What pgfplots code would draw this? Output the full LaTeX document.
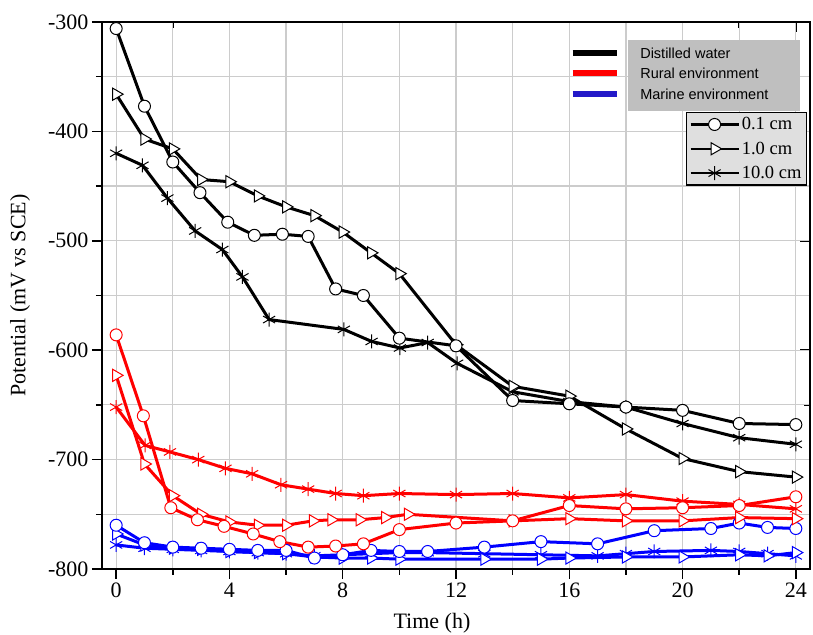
\documentclass[border=0pt]{standalone}
\usepackage{fontspec}
\setmainfont{Liberation Serif}
\newfontfamily\arialfont{Liberation Sans}
\usepackage{pgfplots}
\pgfplotsset{compat=1.18}
\definecolor{legblue}{RGB}{35,25,200}

\pgfplotsset{
  circ/.style={mark=*, mark size=6pt, mark options={fill=white, line width=1pt}},
  tri/.style={mark=triangle*, mark size=7pt, mark options={fill=white, rotate=-90, line width=1pt}},
  ast/.style={mark=asterisk, mark size=7pt, mark options={line width=1pt}},
  frame/.style={
    scale only axis, width=708pt, height=547pt,
    xmin=-0.5, xmax=24.5, ymin=-800, ymax=-300,
    xtick={0,4,...,24}, minor xtick={2,6,...,22},
    ytick={-800,-700,...,-300}, minor ytick={-750,-650,...,-350},
    major tick length=10pt, minor tick length=6pt,
    tick style={black, line width=1.5pt},
    axis line style={line width=2pt},
  },
}

\begin{document}
\begin{tikzpicture}
% top and right ticks point inwards
\begin{axis}[frame, xtick pos=top, ytick pos=right, tick align=inside,
  xticklabels={}, yticklabels={}]
\end{axis}

\begin{axis}[frame,
  xtick pos=bottom, ytick pos=left, tick align=outside,
  grid=both,
  major grid style={gray!40, line width=1.2pt},
  minor grid style={gray!40, line width=1.2pt},
  ticklabel style={font=\fontsize{22}{26}\selectfont},
  /pgf/number format/assume math mode=true,
  xlabel={Time (h)}, ylabel={Potential (mV vs SCE)},
  every axis x label/.style={at={(rel axis cs:0.466,0)}, anchor=center,
    yshift=-54pt, font=\fontsize{22}{26}\selectfont},
  every axis y label/.style={at={(rel axis cs:0,0.5)}, xshift=-82pt, rotate=90,
    anchor=center, font=\fontsize{22}{26}\selectfont},
  legend style={at={(rel axis cs:0.9958,0.8355)}, anchor=north east,
    fill=gray!25, draw=black, line width=1.2pt,
    font=\fontsize{18.5}{21}\selectfont, row sep=6.5pt, inner sep=3pt},
  legend image code/.code={\draw[mark repeat=2, mark phase=2]
    plot coordinates {(0pt,0pt)(24pt,0pt)(48pt,0pt)};},
  legend cell align=left,
]
\coordinate (ll) at (rel axis cs:0,0);
\coordinate (ur) at (rel axis cs:1,1);

\addlegendimage{black, line width=2.5pt, circ}
\addlegendimage{black, line width=2.5pt, tri}
\addlegendimage{black, line width=2.5pt, ast}
\legend{0.1 cm, 1.0 cm, 10.0 cm}

% marine environment
\addplot[blue, line width=3pt, ast] coordinates {
  (0,-778) (1,-781) (2,-782) (3,-783) (4,-784) (5,-785) (6,-786) (7,-788)
  (8,-787) (9,-786) (10,-785) (11,-785) (13,-786) (15,-787) (17,-788)
  (18,-786) (19,-784) (21,-783) (22,-784) (23,-786) (24,-788)};
\addplot[blue, line width=3pt, tri] coordinates {
  (0,-768) (1,-778) (2,-781) (3,-782) (4,-784) (5,-785) (6,-786) (7,-789)
  (8,-790) (9,-790) (10,-791) (13,-791) (15,-791) (16,-790) (18,-789)
  (20,-789) (22,-787) (23,-788) (24,-785)};
\addplot[blue, line width=3pt, circ] coordinates {
  (0,-760) (1,-776) (2,-780) (3,-781) (4,-782) (5,-783) (6,-783) (7,-790)
  (8,-787) (9,-783) (10,-784) (11,-784) (13,-780) (15,-775) (17,-777)
  (19,-765) (21,-763) (22,-758) (23,-762) (24,-763)};

% rural environment
\addplot[red, line width=3pt, ast] coordinates {
  (0,-652) (1.02,-687) (1.9,-693) (2.9,-700) (3.86,-708) (4.8,-713)
  (5.82,-723) (6.78,-727) (7.75,-731) (8.73,-733) (10,-731) (12,-732)
  (14,-731) (16,-735) (18,-732) (20,-738) (22,-741) (24,-745)};
\addplot[red, line width=3pt, tri] coordinates {
  (0,-623) (1,-704) (2,-733) (3,-750) (4,-757) (5,-760) (6,-760)
  (6.95,-756) (7.6,-755) (8.6,-755) (9.5,-753) (10.3,-750) (14,-756)
  (16,-754) (18,-756) (20,-756) (22,-753) (24,-754)};
\addplot[red, line width=3pt, circ] coordinates {
  (0,-586) (0.96,-660) (1.93,-744) (2.87,-755) (3.81,-761) (4.84,-768)
  (5.78,-775) (6.78,-780) (7.75,-779) (8.73,-777) (10,-764) (12,-758)
  (14,-756) (16,-742) (18,-745) (20,-744) (22,-742) (24,-734)};

% distilled water
\addplot[black, line width=3pt, ast] coordinates {
  (0,-420) (0.93,-431) (1.81,-461) (2.79,-491) (3.75,-508) (4.46,-533)
  (5.4,-572) (8.04,-581) (9.02,-592) (10.02,-598) (11,-593) (12.04,-612)
  (14,-638) (16,-647) (18,-652) (20,-667) (22,-680) (24,-686)};
\addplot[black, line width=3pt, tri] coordinates {
  (0,-366) (1,-407) (2,-416) (3,-444) (4,-446) (5,-459) (6,-469) (7,-477)
  (8,-492) (9,-511) (10,-530) (12,-595) (14,-633) (16,-642) (18,-672)
  (20,-699) (22,-711) (24,-716)};
\addplot[black, line width=3pt, circ] coordinates {
  (0,-306) (1,-377) (2,-428) (2.96,-456) (3.94,-483) (4.88,-495)
  (5.87,-494) (6.78,-496) (7.75,-544) (8.73,-550) (10,-589) (12,-596)
  (14,-646) (16,-649) (18,-652) (20,-655) (22,-667) (24,-668)};

% environment key
\fill[gray!50] (axis cs:18.06,-316.5) rectangle (axis cs:24.13,-381.4);
\draw[line width=6pt, black] (axis cs:16.12,-328.3) -- (axis cs:17.67,-328.3);
\draw[line width=6pt, red] (axis cs:16.12,-346.6) -- (axis cs:17.67,-346.6);
\draw[line width=6pt, legblue] (axis cs:16.12,-365.8) -- (axis cs:17.67,-365.8);
\begin{scope}[every node/.style={anchor=west, inner sep=0pt,
    font=\arialfont\fontsize{14.5}{17}\selectfont}]
\node at (axis cs:18.5,-328.3) {Distilled water};
\node at (axis cs:18.5,-346.6) {Rural environment};
\node at (axis cs:18.5,-365.8) {Marine environment};
\end{scope}
\end{axis}
\pgfresetboundingbox
\useasboundingbox ([shift={(-102pt,-66pt)}]ll) rectangle ([shift={(3pt,22pt)}]ur);
\end{tikzpicture}
\end{document}
